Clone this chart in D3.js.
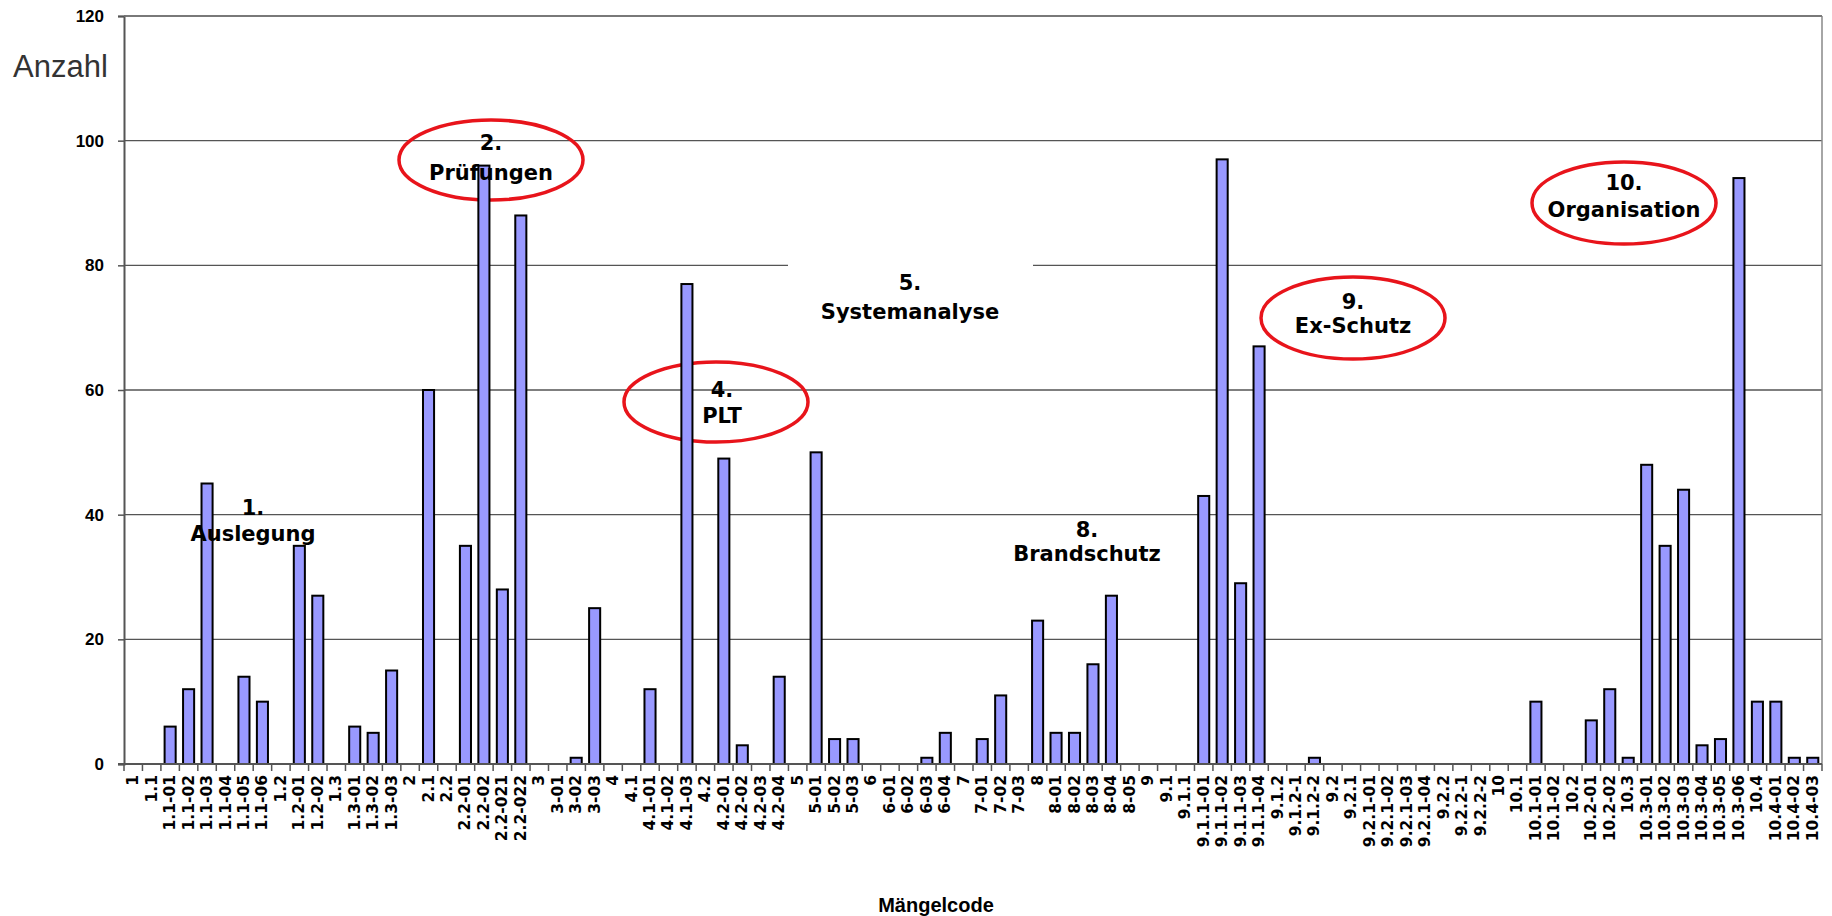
<!DOCTYPE html>
<html>
<head>
<meta charset="utf-8">
<script src="https://cdn.jsdelivr.net/npm/d3@7"></script>
<style>
  html, body { margin: 0; padding: 0; background: #fff; }
  svg { display: block; }
</style>
</head>
<body>
<svg id="chart" width="1832" height="916"></svg>
<script>
// Mängelcodes in der Reihenfolge der Auswertung
const categories = [
  "1", "1.1", "1.1-01", "1.1-02", "1.1-03", "1.1-04", "1.1-05", "1.1-06",
  "1.2", "1.2-01", "1.2-02", "1.3", "1.3-01", "1.3-02", "1.3-03",
  "2", "2.1", "2.2", "2.2-01", "2.2-02", "2.2-021", "2.2-022",
  "3", "3-01", "3-02", "3-03",
  "4", "4.1", "4.1-01", "4.1-02", "4.1-03", "4.2", "4.2-01", "4.2-02", "4.2-03", "4.2-04",
  "5", "5-01", "5-02", "5-03",
  "6", "6-01", "6-02", "6-03", "6-04",
  "7", "7-01", "7-02", "7-03",
  "8", "8-01", "8-02", "8-03", "8-04", "8-05",
  "9", "9.1", "9.1.1", "9.1.1-01", "9.1.1-02", "9.1.1-03", "9.1.1-04",
  "9.1.2", "9.1.2-1", "9.1.2-2", "9.2",
  "9.2.1", "9.2.1-01", "9.2.1-02", "9.2.1-03", "9.2.1-04",
  "9.2.2", "9.2.2-1", "9.2.2-2",
  "10", "10.1", "10.1-01", "10.1-02", "10.2", "10.2-01", "10.2-02",
  "10.3", "10.3-01", "10.3-02", "10.3-03", "10.3-04", "10.3-05", "10.3-06",
  "10.4", "10.4-01", "10.4-02", "10.4-03"
];

// Anzahl der Mängel je Code
const counts = [
  0, 0, 6, 12, 45, 0, 14, 10,
  0, 35, 27, 0, 6, 5, 15,
  0, 60, 0, 35, 96, 28, 88,
  0, 0, 1, 25,
  0, 0, 12, 0, 77, 0, 49, 3, 0, 14,
  0, 50, 4, 4,
  0, 0, 0, 1, 5,
  0, 4, 11, 0,
  23, 5, 5, 16, 27, 0,
  0, 0, 0, 43, 97, 29, 67,
  0, 0, 1, 0,
  0, 0, 0, 0, 0,
  0, 0, 0,
  0, 0, 10, 0, 0, 7, 12,
  1, 48, 35, 44, 3, 4, 94,
  10, 10, 1, 1
];

const yTicks = [0, 20, 40, 60, 80, 100, 120];

// Hauptgruppen-Beschriftungen
const groupNumbers = ["1.", "2.", "4.", "5.", "8.", "9.", "10."];
const groupNames = ["Auslegung", "Prüfungen", "PLT", "Systemanalyse", "Brandschutz", "Ex-Schutz", "Organisation"];
const circledGroups = ["2.", "4.", "9.", "10."];

const yTitle = "Anzahl";
const xTitle = "Mängelcode";

// ---- Layout ----
const plot = { left: 124, right: 1822, top: 16, bottom: 764 };

// Position of each group label block (centre) and its ellipse
const groupLayout = {
  "1.":  { x: 253,  y1: 508, y2: 534 },
  "2.":  { x: 491,  y1: 143, y2: 173, ex: 491,  ey: 160, rx: 92, ry: 40 },
  "4.":  { x: 722,  y1: 390, y2: 416, ex: 716,  ey: 402, rx: 92, ry: 40 },
  "5.":  { x: 910,  y1: 283, y2: 312, box: [788, 255, 245, 75] },
  "8.":  { x: 1087, y1: 530, y2: 554 },
  "9.":  { x: 1353, y1: 302, y2: 326, ex: 1353, ey: 318, rx: 92, ry: 41 },
  "10.": { x: 1624, y1: 183, y2: 210, ex: 1624, ey: 203, rx: 92, ry: 41 }
};

const svg = d3.select("#chart");

const x = d3.scaleBand()
  .domain(categories)
  .range([plot.left, plot.right])
  .padding(0);

const y = d3.scaleLinear()
  .domain([0, 120])
  .range([plot.bottom, plot.top]);

// Gridlines
svg.append("g")
  .selectAll("line")
  .data(yTicks.filter(t => t > 0))
  .join("line")
  .attr("x1", plot.left).attr("x2", plot.right)
  .attr("y1", d => y(d)).attr("y2", d => y(d))
  .attr("stroke", "#555")
  .attr("stroke-width", 1.3);

// Right border
svg.append("line")
  .attr("x1", plot.right).attr("x2", plot.right)
  .attr("y1", plot.top).attr("y2", plot.bottom)
  .attr("stroke", "#888").attr("stroke-width", 1.5);

// White boxes behind free-standing labels
groupNumbers.forEach(g => {
  const L = groupLayout[g];
  if (L.box) {
    svg.append("rect")
      .attr("x", L.box[0]).attr("y", L.box[1])
      .attr("width", L.box[2]).attr("height", L.box[3])
      .attr("fill", "#fff");
  }
});

// Red ellipses around selected groups
svg.append("g")
  .selectAll("ellipse")
  .data(circledGroups)
  .join("ellipse")
  .attr("cx", d => groupLayout[d].ex)
  .attr("cy", d => groupLayout[d].ey)
  .attr("rx", d => groupLayout[d].rx)
  .attr("ry", d => groupLayout[d].ry)
  .attr("fill", "none")
  .attr("stroke", "#e8141b")
  .attr("stroke-width", 3.5);

// Bars
const barW = x.bandwidth() * 0.6;
svg.append("g")
  .selectAll("rect")
  .data(categories.map((c, i) => ({ c, v: counts[i] })).filter(d => d.v > 0))
  .join("rect")
  .attr("x", d => x(d.c) + (x.bandwidth() - barW) / 2)
  .attr("y", d => y(d.v))
  .attr("width", barW)
  .attr("height", d => y(0) - y(d.v))
  .attr("fill", "#9999ff")
  .attr("stroke", "#000")
  .attr("stroke-width", 2);

// Y axis
const yAxis = svg.append("g")
  .attr("transform", `translate(${plot.left},0)`)
  .call(d3.axisLeft(y).tickValues(yTicks).tickSize(6).tickPadding(14));
yAxis.select(".domain").attr("stroke", "#555").attr("stroke-width", 2);
yAxis.selectAll(".tick line").attr("stroke", "#555").attr("stroke-width", 1.5);
yAxis.selectAll(".tick text")
  .attr("font-family", "'Liberation Sans', Arial, sans-serif")
  .attr("font-weight", "bold")
  .attr("font-size", 17)
  .attr("fill", "#000");

// Top border
svg.append("line")
  .attr("x1", plot.left).attr("x2", plot.right)
  .attr("y1", plot.top).attr("y2", plot.top)
  .attr("stroke", "#777").attr("stroke-width", 1.5);

// X axis: labels centred on bands, ticks on band boundaries
const xAxis = svg.append("g")
  .attr("transform", `translate(0,${plot.bottom})`)
  .call(d3.axisBottom(x).tickSize(0).tickPadding(0));
xAxis.select(".domain").remove();
xAxis.selectAll(".tick text")
  .attr("font-family", "'DejaVu Sans', sans-serif")
  .attr("font-weight", "bold")
  .attr("font-size", 15.5)
  .attr("fill", "#000")
  .attr("text-anchor", "end")
  .attr("dy", null)
  .attr("dominant-baseline", "central")
  .attr("transform", "translate(0,11) rotate(-90)");

const boundaries = categories.map(c => x(c)).concat([plot.right]);
svg.append("g")
  .selectAll("line")
  .data(boundaries)
  .join("line")
  .attr("x1", d => d).attr("x2", d => d)
  .attr("y1", plot.bottom).attr("y2", plot.bottom + 7)
  .attr("stroke", "#555").attr("stroke-width", 1.5);

svg.append("line")
  .attr("x1", plot.left - 6).attr("x2", plot.right)
  .attr("y1", plot.bottom).attr("y2", plot.bottom)
  .attr("stroke", "#555").attr("stroke-width", 2);

// Group labels
const labelFont = "'DejaVu Sans', sans-serif";
groupNumbers.forEach((g, i) => {
  const L = groupLayout[g];
  svg.append("text")
    .attr("x", L.x).attr("y", L.y1)
    .attr("text-anchor", "middle")
    .attr("dominant-baseline", "central")
    .attr("font-family", labelFont)
    .attr("font-weight", "bold")
    .attr("font-size", 21)
    .text(g);
  svg.append("text")
    .attr("x", L.x).attr("y", L.y2)
    .attr("text-anchor", "middle")
    .attr("dominant-baseline", "central")
    .attr("font-family", labelFont)
    .attr("font-weight", "bold")
    .attr("font-size", 21)
    .text(groupNames[i]);
});

// Axis titles
svg.append("text")
  .attr("x", 13).attr("y", 77)
  .attr("font-family", "'Liberation Sans', Arial, sans-serif")
  .attr("font-size", 31)
  .attr("fill", "#333")
  .text(yTitle);

svg.append("text")
  .attr("x", 936).attr("y", 912)
  .attr("text-anchor", "middle")
  .attr("font-family", "'Liberation Sans', Arial, sans-serif")
  .attr("font-weight", "bold")
  .attr("font-size", 20)
  .attr("fill", "#000")
  .text(xTitle);
</script>
</body>
</html>
